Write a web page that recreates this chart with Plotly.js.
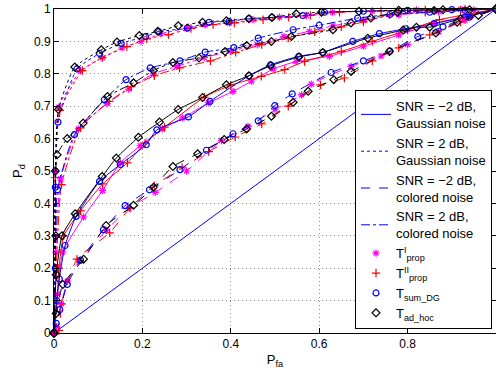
<!DOCTYPE html>
<html><head><meta charset="utf-8">
<script src="https://cdn.plot.ly/plotly-3.0.1.min.js"></script>
<style>html,body{margin:0;padding:0;background:#fff;overflow:hidden}</style>
</head><body><div id="chart" style="width:496px;height:374px"></div>
<script>
// Diagonal (chance line)
const diagX = [0, 1];
const diagY = [0, 1];

// SNR = 2 dB, Gaussian noise (dotted)
const g2BlueX = [0, 0.003, 0.009, 0.052, 0.103, 0.152, 0.207, 0.237, 0.302, 0.351, 0.396, 0.441, 0.493, 0.563, 0.612, 0.70, 0.80, 0.90, 1];
const g2BlueY = [0, 0.45, 0.651, 0.815, 0.863, 0.894, 0.915, 0.93, 0.941, 0.959, 0.962, 0.97, 0.974, 0.98, 0.99, 0.993, 0.996, 0.998, 1];
const g2BlackX = [0, 0.003, 0.01, 0.047, 0.107, 0.1425, 0.193, 0.235, 0.281, 0.336, 0.39, 0.441, 0.493, 0.548, 0.605, 0.69, 0.78, 0.88, 1];
const g2BlackY = [0, 0.5, 0.69, 0.821, 0.874, 0.898, 0.918, 0.931, 0.948, 0.959, 0.964, 0.97, 0.974, 0.985, 0.99, 0.993, 0.996, 0.998, 1];
const g2MagX = [0, 0.003, 0.011, 0.06, 0.11, 0.154, 0.197, 0.242, 0.30, 0.342, 0.397, 0.45, 0.51, 0.571, 0.63, 0.72, 0.82, 0.92, 1];
const g2MagY = [0, 0.5, 0.697, 0.81, 0.85, 0.88, 0.9, 0.924, 0.94, 0.951, 0.957, 0.967, 0.975, 0.98, 0.99, 0.994, 0.997, 0.999, 1];
const g2RedX = [0, 0.003, 0.013, 0.064, 0.109, 0.165, 0.21, 0.259, 0.31, 0.36, 0.408, 0.473, 0.531, 0.58, 0.646, 0.74, 0.84, 0.93, 1];
const g2RedY = [0, 0.48, 0.687, 0.81, 0.85, 0.884, 0.908, 0.921, 0.94, 0.952, 0.957, 0.967, 0.974, 0.98, 0.99, 0.994, 0.997, 0.999, 1];

// SNR = 2 dB, colored noise (dash-dot)
const c2BlueX = [0, 0.003, 0.008, 0.046, 0.114, 0.163, 0.2176, 0.285, 0.342, 0.407, 0.462, 0.541, 0.60, 0.687, 0.76, 0.85, 0.93, 1];
const c2BlueY = [0, 0.2, 0.442, 0.612, 0.72, 0.782, 0.818, 0.84, 0.867, 0.881, 0.91, 0.936, 0.95, 0.972, 0.983, 0.99, 0.996, 1];
const c2BlackX = [0, 0.004, 0.007, 0.03, 0.066, 0.121, 0.18, 0.225, 0.269, 0.328, 0.387, 0.436, 0.492, 0.537, 0.631, 0.672, 0.717, 0.777, 0.86, 0.94, 1];
const c2BlackY = [0, 0.3, 0.55, 0.6, 0.648, 0.73, 0.772, 0.81, 0.835, 0.849, 0.869, 0.887, 0.9, 0.915, 0.936, 0.957, 0.972, 0.99, 0.995, 0.998, 1];
const c2MagX = [0, 0.004, 0.015, 0.055, 0.12, 0.169, 0.225, 0.278, 0.34, 0.40, 0.46, 0.52, 0.578, 0.631, 0.70, 0.78, 0.87, 0.95, 1];
const c2MagY = [0, 0.25, 0.476, 0.63, 0.708, 0.753, 0.8, 0.823, 0.85, 0.87, 0.89, 0.915, 0.931, 0.948, 0.965, 0.982, 0.992, 0.997, 1];
const c2RedX = [0, 0.005, 0.017, 0.06, 0.125, 0.175, 0.227, 0.284, 0.354, 0.411, 0.47, 0.53, 0.59, 0.65, 0.70, 0.759, 0.84, 0.92, 1];
const c2RedY = [0, 0.2, 0.458, 0.633, 0.715, 0.76, 0.794, 0.818, 0.84, 0.866, 0.89, 0.91, 0.93, 0.945, 0.96, 0.982, 0.99, 0.996, 1];

// SNR = -2 dB, Gaussian noise (solid)
const gm2BlackX = [0, 0.005, 0.018, 0.048, 0.109, 0.141, 0.191, 0.2386, 0.281, 0.336, 0.39, 0.441, 0.49, 0.554, 0.608, 0.71, 0.79, 0.82, 0.85, 0.92, 1];
const gm2BlackY = [0, 0.18, 0.3, 0.368, 0.483, 0.54, 0.604, 0.651, 0.69, 0.727, 0.766, 0.794, 0.825, 0.852, 0.866, 0.91, 0.935, 0.944, 0.944, 0.97, 1];
const gm2BlueX = [0, 0.006, 0.012, 0.025, 0.05, 0.103, 0.15, 0.2086, 0.2327, 0.304, 0.353, 0.441, 0.49, 0.554, 0.608, 0.676, 0.736, 0.796, 0.86, 0.93, 1];
const gm2BlueY = [0, 0.1, 0.167, 0.27, 0.36, 0.468, 0.52, 0.581, 0.627, 0.667, 0.715, 0.794, 0.828, 0.854, 0.866, 0.9, 0.924, 0.939, 0.955, 0.975, 1];
const gm2MagX = [0, 0.008, 0.02, 0.067, 0.11, 0.15, 0.195, 0.245, 0.291, 0.35, 0.405, 0.447, 0.496, 0.548, 0.623, 0.70, 0.78, 0.86, 0.93, 1];
const gm2MagY = [0, 0.12, 0.25, 0.358, 0.44, 0.525, 0.578, 0.63, 0.664, 0.71, 0.746, 0.777, 0.815, 0.838, 0.854, 0.885, 0.92, 0.955, 0.978, 1];
const gm2RedX = [0, 0.007, 0.011, 0.022, 0.06, 0.11, 0.166, 0.206, 0.25, 0.34, 0.40, 0.469, 0.522, 0.567, 0.65, 0.72, 0.80, 0.872, 0.94, 1];
const gm2RedY = [0, 0.1, 0.2, 0.3, 0.377, 0.46, 0.525, 0.586, 0.635, 0.728, 0.765, 0.792, 0.813, 0.838, 0.869, 0.9, 0.935, 0.967, 0.985, 1];

// SNR = -2 dB, colored noise (dashed)
const cm2BlueX = [0, 0.005, 0.013, 0.03, 0.06, 0.112, 0.161, 0.216, 0.285, 0.345, 0.405, 0.462, 0.4995, 0.539, 0.627, 0.70, 0.76, 0.823, 0.88, 0.94, 1];
const cm2BlueY = [0, 0.03, 0.072, 0.15, 0.225, 0.319, 0.393, 0.442, 0.504, 0.564, 0.615, 0.655, 0.702, 0.738, 0.804, 0.84, 0.87, 0.915, 0.945, 0.975, 1];
const cm2BlackX = [0, 0.005, 0.02, 0.067, 0.118, 0.18, 0.225, 0.269, 0.325, 0.385, 0.436, 0.492, 0.541, 0.575, 0.633, 0.672, 0.759, 0.864, 0.912, 0.96, 1];
const cm2BlackY = [0, 0.06, 0.15, 0.228, 0.332, 0.394, 0.45, 0.514, 0.553, 0.597, 0.63, 0.669, 0.712, 0.746, 0.782, 0.807, 0.869, 0.926, 0.959, 0.98, 1];
const cm2MagX = [0, 0.006, 0.017, 0.03, 0.058, 0.118, 0.17, 0.229, 0.30, 0.379, 0.439, 0.50, 0.56, 0.582, 0.672, 0.74, 0.80, 0.87, 0.93, 1];
const cm2MagY = [0, 0.02, 0.09, 0.16, 0.223, 0.317, 0.385, 0.434, 0.5, 0.594, 0.638, 0.69, 0.735, 0.768, 0.823, 0.855, 0.89, 0.93, 0.965, 1];
const cm2RedX = [0, 0.011, 0.017, 0.052, 0.126, 0.172, 0.227, 0.29, 0.35, 0.41, 0.47, 0.53, 0.603, 0.657, 0.72, 0.78, 0.85, 0.92, 1];
const cm2RedY = [0, 0.008, 0.09, 0.228, 0.309, 0.386, 0.455, 0.51, 0.56, 0.605, 0.645, 0.7, 0.766, 0.787, 0.84, 0.88, 0.92, 0.96, 1];

const scenarioLabels = ["SNR = \u22122 dB,<br>Gaussian noise", "SNR = 2 dB,<br>Gaussian noise", "SNR = \u22122 dB,<br>colored noise", "SNR = 2 dB,<br>colored noise"];
const detectorLabels = ["T<sup>I</sup><sub>prop</sub>", "T<sup>II</sup><sub>prop</sub>", "T<sub>sum_DG</sub>", "T<sub>ad_hoc</sub>"];
const xTickVals = [0, 0.2, 0.4, 0.6, 0.8, 1];
const xTickText = ["0", "0.2", "0.4", "0.6", "0.8", "1"];
const yTickVals = [0, 0.1, 0.2, 0.3, 0.4, 0.5, 0.6, 0.7, 0.8, 0.9, 1];
const yTickText = ["0", "0.1", "0.2", "0.3", "0.4", "0.5", "0.6", "0.7", "0.8", "0.9", "1"];

const dashes = {gm2: 'solid', g2: 'dot', cm2: 'dash', c2: 'dashdot'};
const det = {
  mag: {color: '#ff00ff', symbol: 'asterisk-open', size: 6},
  red: {color: '#ff0000', symbol: 'cross-thin-open', size: 6},
  blue: {color: '#0000ff', symbol: 'circle-open', size: 6},
  black: {color: '#000000', symbol: 'diamond-open', size: 6}
};

function curve(x, y, dash, d) {
  return {x: x, y: y, type: 'scatter', mode: 'lines+markers', showlegend: false,
    cliponaxis: false,
    line: {color: d.color, width: 1, dash: dash, shape: 'spline', smoothing: 0.5},
    marker: {color: d.color, symbol: d.symbol, size: d.size, line: {color: d.color, width: 1.2}}};
}

const traces = [];
traces.push({x: diagX, y: diagY, type: 'scatter', mode: 'lines', showlegend: false, line: {color: '#0000ff', width: 1}});
const sets = [
  ['g2', [[g2MagX, g2MagY, 'mag'], [g2RedX, g2RedY, 'red'], [g2BlueX, g2BlueY, 'blue'], [g2BlackX, g2BlackY, 'black']]],
  ['c2', [[c2MagX, c2MagY, 'mag'], [c2RedX, c2RedY, 'red'], [c2BlueX, c2BlueY, 'blue'], [c2BlackX, c2BlackY, 'black']]],
  ['gm2', [[gm2MagX, gm2MagY, 'mag'], [gm2RedX, gm2RedY, 'red'], [gm2BlueX, gm2BlueY, 'blue'], [gm2BlackX, gm2BlackY, 'black']]],
  ['cm2', [[cm2MagX, cm2MagY, 'mag'], [cm2RedX, cm2RedY, 'red'], [cm2BlueX, cm2BlueY, 'blue'], [cm2BlackX, cm2BlackY, 'black']]]
];
sets.forEach(function(s) {
  s[1].forEach(function(c) { traces.push(curve(c[0], c[1], dashes[s[0]], det[c[2]])); });
});

// legend entries
const legDash = ['solid', 'dot', 'dash', 'dashdot'];
scenarioLabels.forEach(function(lbl, i) {
  traces.push({x: [null], y: [null], type: 'scatter', mode: 'lines', name: lbl,
    line: {color: '#0000ff', width: 1, dash: legDash[i]}});
});
const legDet = ['mag', 'red', 'blue', 'black'];
detectorLabels.forEach(function(lbl, i) {
  const d = det[legDet[i]];
  traces.push({x: [null], y: [null], type: 'scatter', mode: 'markers', name: lbl,
    marker: {color: d.color, symbol: d.symbol, size: d.size, line: {color: d.color, width: 1.2}}});
});

const axisCommon = {
  showline: true, linecolor: '#000', linewidth: 1, mirror: 'ticks',
  ticks: 'inside', ticklen: 5, tickcolor: '#000',
  showgrid: true, gridcolor: '#8c8c8c', griddash: '1px,3px', gridwidth: 1,
  zeroline: false, tickfont: {size: 12, color: '#000'}
};

const layout = {
  width: 496, height: 374,
  margin: {l: 54, r: 0, t: 9, b: 41},
  paper_bgcolor: '#fff', plot_bgcolor: '#fff',
  font: {family: 'Liberation Sans, Arial, sans-serif', color: '#000', size: 12},
  xaxis: Object.assign({}, axisCommon, {range: [0, 1], tickmode: 'array', tickvals: xTickVals, ticktext: xTickText,
    title: {text: 'P<sub>fa</sub>', font: {size: 13}, standoff: 4}}),
  yaxis: Object.assign({}, axisCommon, {range: [0, 1], tickmode: 'array', tickvals: yTickVals, ticktext: yTickText,
    title: {text: 'P<sub>d</sub>', font: {size: 13}, standoff: 8}}),
  showlegend: true,
  legend: {x: 0.681, y: 0.75, xanchor: 'left', yanchor: 'top',
    bgcolor: '#fff', bordercolor: '#000', borderwidth: 1,
    font: {size: 13, color: '#000'}, itemwidth: 30, tracegroupgap: 0}
};

Plotly.newPlot('chart', traces, layout, {displayModeBar: false, staticPlot: true});
</script></body></html>
